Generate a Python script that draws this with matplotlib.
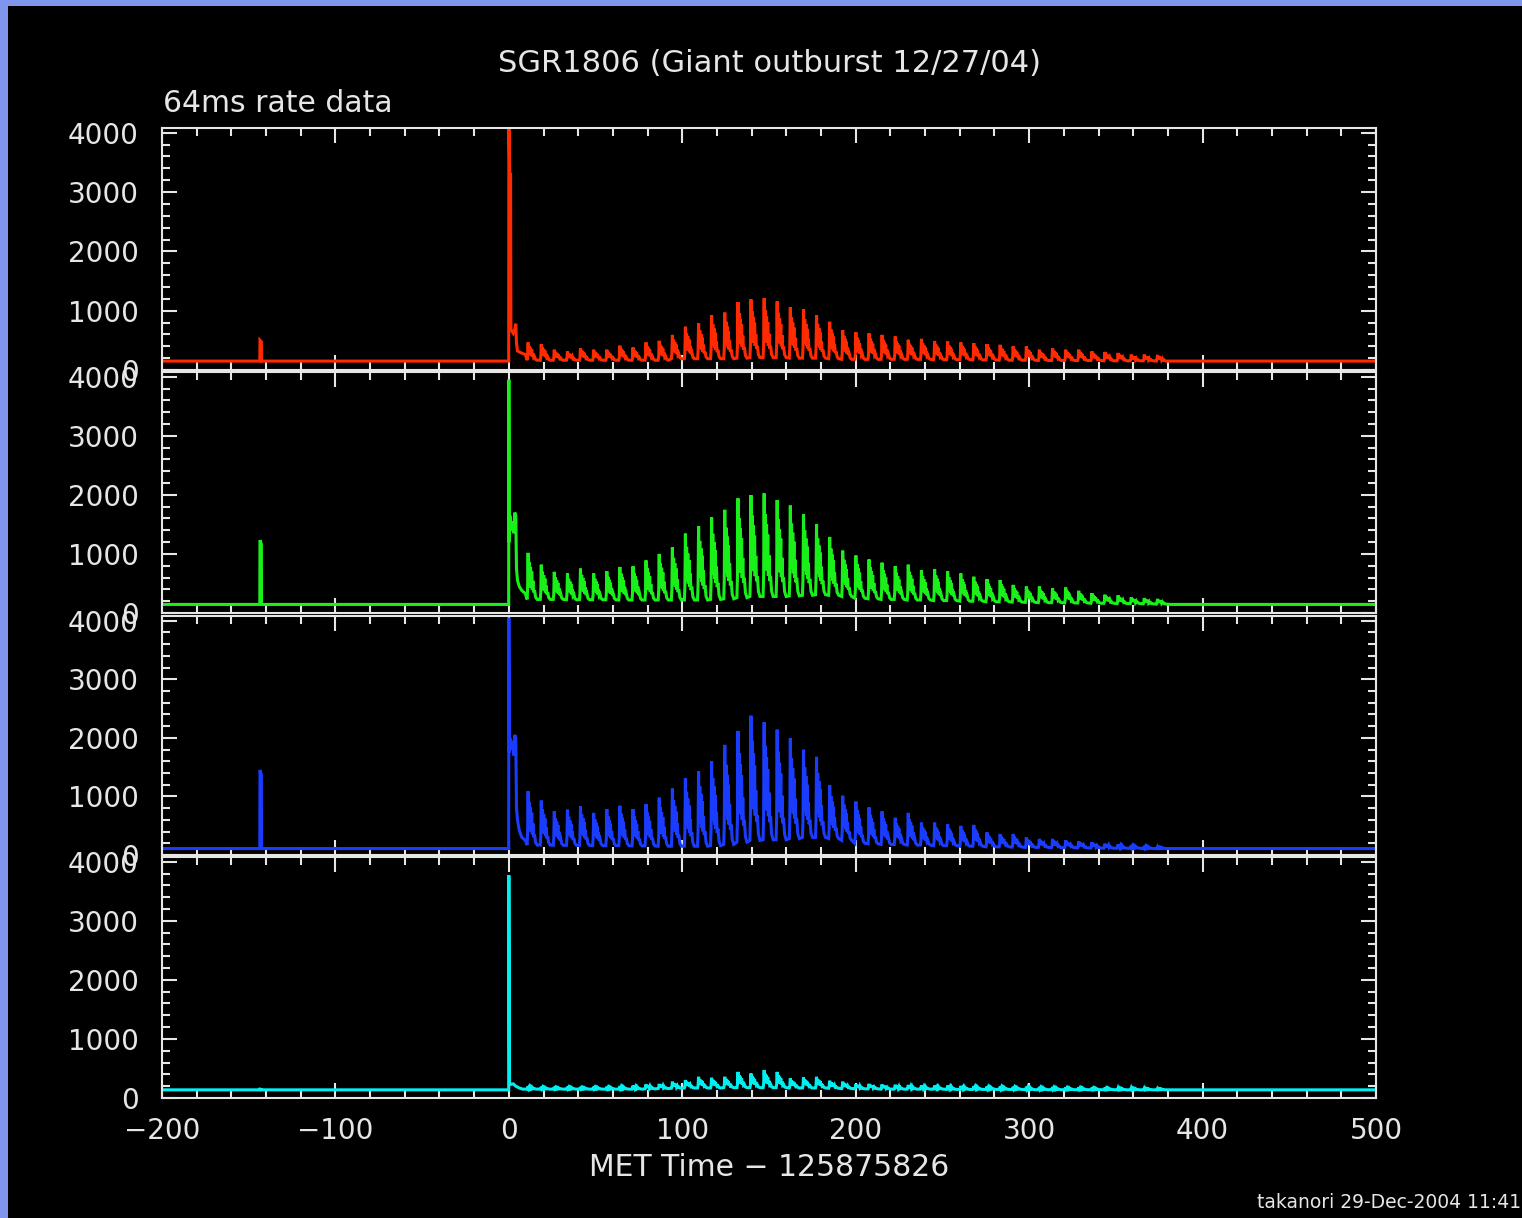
import matplotlib
matplotlib.use("Agg")
import matplotlib.pyplot as plt
from matplotlib.patches import Rectangle
from matplotlib.ticker import MultipleLocator

# === data ===
# pulse times (s) of the ringing tail, shared by all four detectors
pulse_t = [11.1, 18.7, 26.2, 33.8, 41.3, 48.9, 56.5, 64.0, 71.6, 79.1,
           86.7, 94.3, 101.8, 109.4, 116.9, 124.5, 132.1, 139.6, 147.2, 154.7,
           162.3, 169.9, 177.4, 185.0, 192.5, 200.1, 207.7, 215.2, 222.8, 230.3,
           237.9, 245.5, 253.0, 260.6, 268.1, 275.7, 283.3, 290.8, 298.4, 305.9,
           313.5, 321.1, 328.6, 336.2, 343.7, 351.3, 358.9, 366.4, 374.0]

red_peak = [465, 437, 343, 315, 370, 343, 343, 410, 380, 465,
            492, 592, 730, 785, 923, 968, 1145, 1190, 1210, 1155,
            1060, 1025, 923, 813, 675, 636, 620, 592, 565, 510,
            525, 490, 480, 465, 453, 437, 425, 398, 398, 343,
            370, 343, 343, 315, 305, 288, 260, 260, 255]
green_peak = [1018, 818, 697, 669, 752, 669, 708, 780, 791, 890,
              1000, 1111, 1344, 1471, 1620, 1747, 1941, 1996, 2024, 1913,
              1819, 1676, 1499, 1288, 1056, 973, 907, 852, 796, 818,
              724, 741, 708, 669, 614, 575, 558, 476, 448, 448,
              420, 431, 376, 337, 310, 299, 265, 254, 240]
blue_peak = [1089, 929, 746, 774, 830, 719, 785, 841, 785, 868,
             979, 1134, 1311, 1427, 1604, 1880, 2118, 2378, 2267, 2140,
             1991, 1797, 1676, 1189, 1012, 912, 813, 746, 636, 719,
             553, 553, 525, 498, 514, 387, 359, 359, 304, 276,
             276, 249, 238, 221, 194, 182, 166, 155, 138]
cyan_peak = [200, 190, 185, 190, 185, 190, 190, 200, 210, 230,
             238, 277, 304, 359, 343, 359, 442, 415, 470, 442,
             332, 348, 359, 293, 277, 232, 240, 230, 225, 220,
             215, 210, 210, 205, 200, 195, 195, 190, 190, 185,
             185, 180, 180, 175, 175, 170, 170, 165, 160]

red_trough = [165, 165, 165, 165, 165, 165, 165, 165, 165, 165,
              165, 190, 190, 190, 190, 190, 200, 210, 210, 210,
              200, 200, 200, 190, 180, 180, 180, 180, 180, 180,
              180, 175, 175, 175, 170, 170, 165, 165, 165, 160,
              160, 160, 160, 160, 155, 155, 155, 155, 150]
green_trough = [230, 230, 230, 225, 225, 225, 225, 220, 220, 220,
                220, 220, 220, 220, 230, 240, 260, 280, 280, 280,
                290, 300, 310, 300, 280, 250, 240, 230, 230, 220,
                220, 210, 210, 200, 200, 190, 190, 185, 180, 175,
                175, 170, 170, 165, 165, 160, 160, 155, 150]
blue_trough = [170, 170, 165, 165, 165, 160, 160, 160, 155, 155,
               150, 150, 150, 150, 160, 180, 220, 250, 260, 260,
               280, 300, 300, 280, 250, 200, 190, 180, 180, 170,
               170, 160, 160, 150, 150, 140, 140, 135, 130, 130,
               125, 125, 120, 120, 115, 115, 115, 110, 110]
cyan_trough = [150, 150, 150, 150, 150, 150, 150, 150, 150, 155,
               160, 165, 170, 170, 170, 175, 175, 175, 175, 175,
               170, 170, 170, 165, 160, 155, 155, 150, 150, 150,
               150, 150, 145, 145, 145, 145, 145, 145, 140, 140,
               140, 140, 140, 140, 140, 138, 138, 138, 138]

# profile of one pulse: offsets from pulse time (s), fraction trough -> peak
shape_dt = [-0.6, -0.3, 0.0, 0.3, 0.7, 1.0, 1.4, 1.7, 2.1, 2.4,
            2.8, 3.2, 3.7, 4.3, 5.2]
shape_f = [0.0, 0.2, 1.0, 0.3, 0.8, 0.3, 0.7, 0.25, 0.6, 0.2,
           0.4, 0.15, 0.2, 0.05, 0.0]

# pre-burst level and precursor at t = -143 s
base = {"red": 150, "green": 145, "blue": 110, "cyan": 138}
precursor_t = -143.0
precursor = {"red": 500, "green": 1230, "blue": 1450, "cyan": 150}

# the initial spike and its first seconds
burst_t = {
    "red":   [-0.1, 0.0, 0.5, 1.0, 1.2, 2.5, 3.5, 4.0, 4.4, 5.0, 7.0, 9.5],
    "green": [-0.1, 0.0, 0.3, 0.6, 1.2, 2.0, 2.8, 3.4, 4.0, 4.4, 5.0, 6.0, 7.5, 9.5],
    "blue":  [-0.1, 0.0, 0.3, 0.6, 1.2, 2.0, 2.8, 3.4, 4.0, 4.4, 5.0, 6.0, 7.5, 9.5],
    "cyan":  [-0.1, 0.0, 0.4, 1.0, 2.5, 4.0, 6.0, 8.0],
}
burst_v = {
    "red":   [150, 4200, 3300, 3300, 680, 620, 700, 780, 450, 320, 290, 260],
    "green": [145, 3950, 1200, 1650, 1400, 1550, 1350, 1700, 1650, 750, 550, 450, 380, 330],
    "blue":  [110, 4050, 1750, 2000, 1800, 1950, 1700, 2050, 2000, 800, 600, 420, 300, 250],
    "cyan":  [138, 3770, 260, 230, 240, 200, 170, 150],
}

panels = [
    ("red", "#ff2a00", red_peak, red_trough),
    ("green", "#19f019", green_peak, green_trough),
    ("blue", "#1a3cff", blue_peak, blue_trough),
    ("cyan", "#00f0f0", cyan_peak, cyan_trough),
]


def build_curve(name, peaks, troughs):
    b = base[name]
    t = [-200.0, precursor_t - 0.6, precursor_t - 0.5, precursor_t + 0.3, precursor_t + 0.4]
    y = [b, b, precursor[name], precursor[name] * 0.95, b]
    t += burst_t[name]
    y += burst_v[name]
    for tk, pk, tr in zip(pulse_t, peaks, troughs):
        for dt, f in zip(shape_dt, shape_f):
            t.append(tk + dt)
            y.append(tr + f * (pk - tr))
    t += [382.0, 500.0]
    y += [b, b]
    return t, y


# === figure ===
W, H = 1522, 1218
fig = plt.figure(figsize=(W / 100, H / 100), dpi=100, facecolor="black")
# light blue frame on the top and left edge
fig.patches.append(Rectangle((0, 0), 8 / W, 1, transform=fig.transFigure,
                             facecolor="#7f96ec", edgecolor="none", zorder=-10))
fig.patches.append(Rectangle((0, 1 - 6 / H), 1, 6 / H, transform=fig.transFigure,
                             facecolor="#7f96ec", edgecolor="none", zorder=-10))

fg = "#e6e6e6"
tops = [128, 372, 616, 857]
bottoms = [370, 613, 855, 1098]
left, right = 162, 1376

for i, (name, color, peaks, troughs) in enumerate(panels):
    ax = fig.add_axes([left / W, 1 - bottoms[i] / H,
                       (right - left) / W, (bottoms[i] - tops[i]) / H])
    ax.set_facecolor("black")
    t, y = build_curve(name, peaks, troughs)
    ax.plot(t, y, color=color, lw=2.2, solid_joinstyle="miter")
    ax.set_xlim(-200, 500)
    ax.set_ylim(0, 4080)

    ax.xaxis.set_major_locator(MultipleLocator(100))
    ax.xaxis.set_minor_locator(MultipleLocator(20))
    ax.yaxis.set_major_locator(MultipleLocator(1000))
    ax.yaxis.set_minor_locator(MultipleLocator(200))
    ax.tick_params(which="both", direction="in", top=True, right=True,
                   color=fg, width=1.5, labelcolor=fg, labelsize=20)
    ax.tick_params(which="major", length=11)
    ax.tick_params(which="minor", length=5.5)
    ax.tick_params(axis="y", pad=17)
    ax.tick_params(axis="x", pad=14)
    for s in ax.spines.values():
        s.set_color(fg)
        s.set_linewidth(1.5)
    if i < 3:
        ax.tick_params(axis="x", labelbottom=False)

fig.text(770 / W, 1 - 64 / H, "SGR1806 (Giant outburst 12/27/04)",
         color=fg, fontsize=22, ha="center", va="center")
fig.text(163 / W, 1 - 104 / H, "64ms rate data",
         color=fg, fontsize=21.5, ha="left", va="center")
fig.text(769 / W, 1 - 1167 / H, "MET Time \u2212 125875826",
         color=fg, fontsize=21.5, ha="center", va="center")
fig.text(1 - 1 / W, 1 - 1203 / H, "takanori 29-Dec-2004 11:41",
         color=fg, fontsize=13.5, ha="right", va="center")

fig.savefig("out.png", dpi=100, facecolor=fig.get_facecolor())
